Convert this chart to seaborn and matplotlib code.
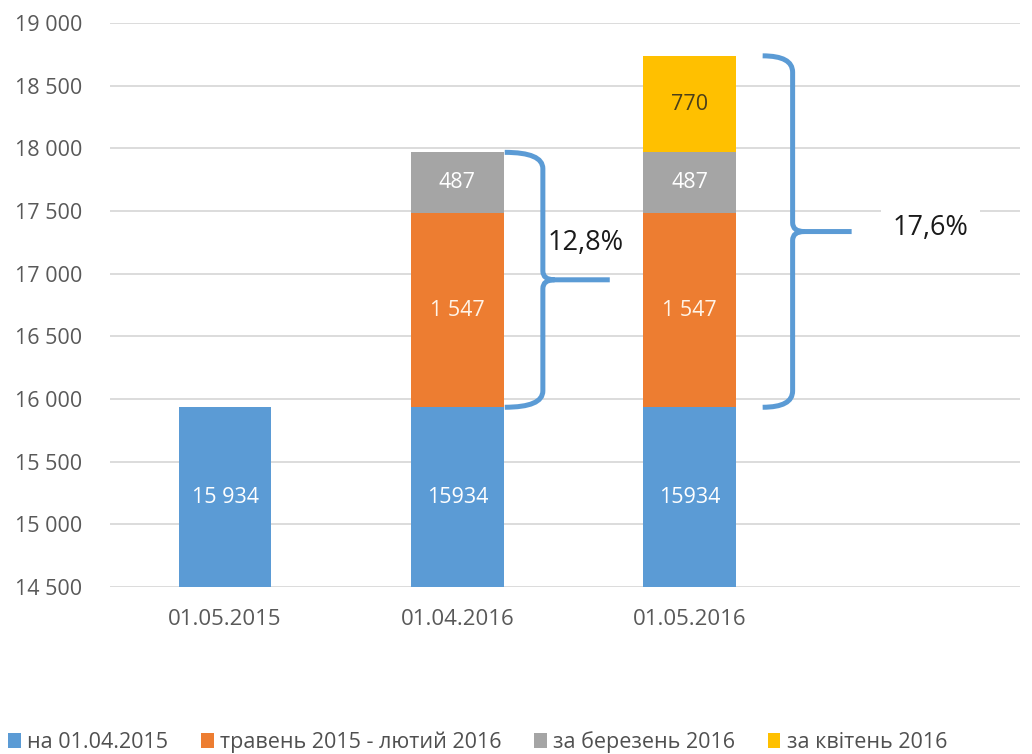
import matplotlib
matplotlib.use("Agg")
import matplotlib.pyplot as plt
import numpy as np
import seaborn as sns
from matplotlib.patches import Patch, PathPatch
from matplotlib.path import Path
from matplotlib.ticker import FuncFormatter

# data
dates = ["01.05.2015", "01.04.2016", "01.05.2016"]
series_names = ["на 01.04.2015", "травень 2015 - лютий 2016", "за березень 2016", "за квітень 2016"]
base = [15934, 15934, 15934]
may_feb = [0, 1547, 1547]
march = [0, 487, 487]
april = [0, 0, 770]
base_labels = ["15 934", "15934", "15934"]
may_feb_labels = ["", "1 547", "1 547"]
march_labels = ["", "487", "487"]
april_labels = ["", "", "770"]
growth_labels = ["12,8%", "17,6%"]

colors = ["#5B9BD5", "#ED7D31", "#A5A5A5", "#FFC000"]
label_colors = ["white", "#FFF4E8", "white", "#4A3F1A"]

sns.set_style("white")
plt.rcParams["font.family"] = ["Open Sans", "DejaVu Sans"]

fig = plt.figure(figsize=(10.32, 7.54), dpi=100)
ax = fig.add_axes([0.1066, 0.2215, 0.8814, 0.748])

layers = [base, may_feb, march, april]
cum = np.cumsum(np.array(layers, dtype=float), axis=0)

# stacked bars: draw the tallest cumulative totals first
for i in range(len(layers) - 1, -1, -1):
    sns.barplot(x=dates, y=cum[i], color=colors[i], saturation=1, width=0.4,
                errorbar=None, ax=ax, zorder=2, linewidth=0)

ymin, ymax = 14500, 19000
ax.set_ylim(ymin, ymax)
ax.set_xlim(-0.495, 3.42)
ax.set_yticks(np.arange(14500, 19001, 500))
ax.yaxis.set_major_formatter(FuncFormatter(lambda v, p: f"{int(v):,}".replace(",", " ")))
ax.grid(axis="y", color="#D9D9D9", linewidth=1.3, zorder=0)
ax.set_axisbelow(True)
for s in ax.spines.values():
    s.set_visible(False)
ax.tick_params(axis="both", length=0, labelcolor="#595959")
ax.tick_params(axis="y", pad=20, labelsize=15.5)
ax.tick_params(axis="x", pad=16, labelsize=16)
ax.set_xlabel("")
ax.set_ylabel("")

# segment labels
all_labels = [base_labels, may_feb_labels, march_labels, april_labels]
for k, labs in enumerate(all_labels):
    for j, lab in enumerate(labs):
        if not lab:
            continue
        lo = cum[k - 1][j] if k > 0 else ymin
        hi = cum[k][j]
        ax.text(j, (lo + hi) / 2, lab, ha="center", va="center",
                fontsize=15.5, color=label_colors[k], zorder=4)


def brace(ax, xl, xs, xt, ytop, ybot):
    ymid = (ytop + ybot) / 2
    ry = 130
    ry2 = 70
    rx = 0.05
    verts = [(xl, ytop), (xs, ytop), (xs, ytop - ry), (xs, ymid + ry2),
             (xs, ymid), (xs + rx, ymid), (xt, ymid),
             (xs + rx, ymid), (xs, ymid), (xs, ymid - ry2), (xs, ybot + ry),
             (xs, ybot), (xl, ybot)]
    codes = [Path.MOVETO, Path.CURVE3, Path.CURVE3, Path.LINETO,
             Path.CURVE3, Path.CURVE3, Path.LINETO,
             Path.MOVETO, Path.CURVE3, Path.CURVE3, Path.LINETO,
             Path.CURVE3, Path.CURVE3]
    ax.add_patch(PathPatch(Path(verts, codes), fill=False, edgecolor="#5B9BD5",
                           linewidth=3.6, capstyle="butt", joinstyle="round", zorder=3))
    return ymid


totals = cum[-1]
m1 = brace(ax, 1.204, 1.368, 1.656, totals[1], base[1])
m2 = brace(ax, 2.314, 2.443, 2.697, totals[2], base[2])
ax.text(1.39, m1 + 290, growth_labels[0], ha="left", va="center", fontsize=19.5,
        color="#1A1A1A", zorder=4,
        bbox=dict(facecolor="white", edgecolor="none", pad=1))
ax.text(2.873, m2 + 30, growth_labels[1], ha="left", va="center", fontsize=19.5,
        color="#1A1A1A", zorder=4,
        bbox=dict(facecolor="white", edgecolor="none", pad=8))

handles = [Patch(facecolor=c, edgecolor="none", label=n) for c, n in zip(colors, series_names)]
fig.legend(handles=handles, loc="lower left", bbox_to_anchor=(-0.011, -0.025), ncol=4,
           frameon=False, fontsize=15.5, labelcolor="#505050", handlelength=0.6,
           handleheight=0.7, handletextpad=0.3, columnspacing=1.5)

fig.savefig("out.png", dpi=100)
